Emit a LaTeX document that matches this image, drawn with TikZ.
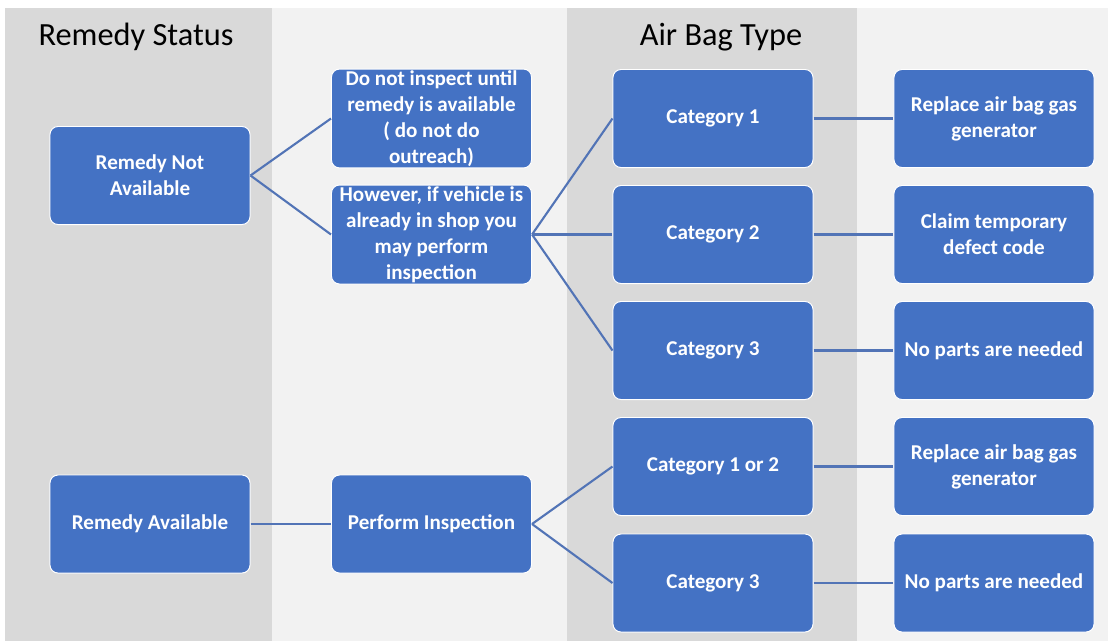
\documentclass[tikz,border=0pt]{standalone}
\usepackage{fontspec}
\setmainfont{Carlito}
\usetikzlibrary{positioning}
\definecolor{boxblue}{HTML}{4472C4}
\definecolor{linkblue}{HTML}{5274B6}
\definecolor{lanegray}{HTML}{D9D9D9}
\definecolor{lanelight}{HTML}{F2F2F2}

\begin{document}
\begin{tikzpicture}[x=0.025cm,y=-0.025cm,
  stepbox/.style={draw=white,line width=0.7pt,fill=boxblue,rounded corners=0.2cm,
    text=white,font=\fontsize{15}{18.5}\selectfont\bfseries,align=center,
    minimum width=5cm,minimum height=2.45cm,inner sep=1pt},
  lanetitle/.style={font=\fontsize{23}{27}\selectfont},
  link/.style={draw=linkblue,line width=1.5pt}]
% lanes
\fill[white] (0,0) rectangle (1108,641);
\fill[lanegray] (5,8) rectangle (272,641);
\fill[lanelight] (272,8) rectangle (567,641);
\fill[lanegray] (567,8) rectangle (857,641);
\fill[lanelight] (857,8) rectangle (1108,641);
\node[lanetitle] (status) at (136,37) {Remedy Status};
\node[lanetitle] (bagtype) at (721,37) {Air Bag Type};
% remedy status
\node[stepbox] (notavail) at (150,175.5) {Remedy Not\\Available};
\node[stepbox] (avail) at (150,524) {Remedy Available};
% what to do
\node[stepbox] (noinspect) at (431.5,118.5) {Do not inspect until\\remedy is available\\( do not do\\outreach)};
\node[stepbox] (however) at (431.5,234.5) {However, if vehicle is\\already in shop you\\may perform\\inspection};
\node[stepbox] (inspect) at (431.5,524) {Perform Inspection};
% air bag type
\node[stepbox] (catA) at (713,118.5) {Category 1};
\node[stepbox] (catB) at (713,234.5) {Category 2};
\node[stepbox] (catC) at (713,350.5) {Category 3};
\node[stepbox] (catAB) at (713,466.5) {Category 1 or 2};
\node[stepbox] (catCC) at (713,583) {Category 3};
% result
\node[stepbox] (replaceA) at (994,118.5) {Replace air bag gas\\generator};
\node[stepbox] (claim) at (994,234.5) {Claim temporary\\defect code};
\node[stepbox] (noparts) at (994,350.5) {No parts are needed};
\node[stepbox] (replaceB) at (994,466.5) {Replace air bag gas\\generator};
\node[stepbox] (nopartsB) at (994,583) {No parts are needed};
% links
\draw[link] (notavail.east) -- (noinspect.west);
\draw[link] (notavail.east) -- (however.west);
\draw[link] (however.east) -- (catA.west);
\draw[link] (however.east) -- (catB.west);
\draw[link] (however.east) -- (catC.west);
\draw[link] (avail) -- (inspect);
\draw[link] (inspect.east) -- (catAB.west);
\draw[link] (inspect.east) -- (catCC.west);
\draw[link] (catA) -- (replaceA);
\draw[link] (catB) -- (claim);
\draw[link] (catC) -- (noparts);
\draw[link] (catAB) -- (replaceB);
\draw[link] (catCC) -- (nopartsB);
\end{tikzpicture}
\end{document}
